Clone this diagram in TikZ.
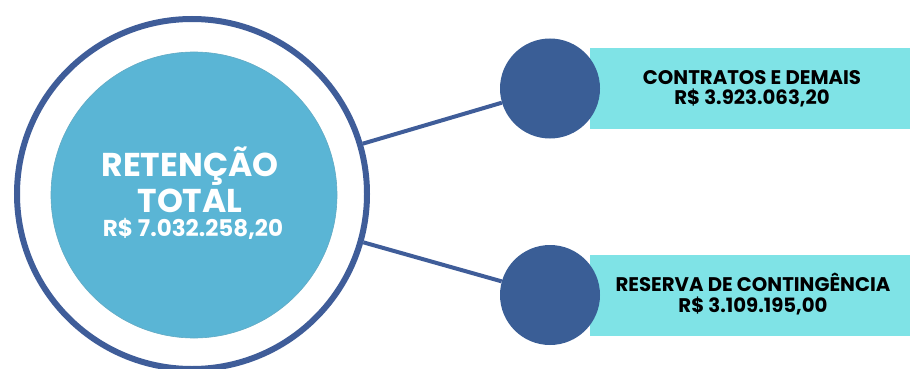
\documentclass[tikz,border=0pt]{standalone}
\usepackage{fontspec}
\setmainfont{Poppins}
\definecolor{ringcol}{HTML}{3F5D99}
\definecolor{dotcol}{HTML}{3A5E96}
\definecolor{innercol}{HTML}{5AB5D5}
\definecolor{boxcol}{HTML}{7FE3E6}
\begin{document}
\begin{tikzpicture}[x=1pt,y=-1pt,
  outerring/.style={circle, draw=ringcol, line width=6pt, fill=white, minimum size=350pt, inner sep=0pt},
  innerdisc/.style={circle, fill=innercol, draw=innercol!80!gray, line width=0.6pt, minimum size=286pt, inner sep=0pt},
  bigtext/.style={text=white, font=\bfseries\fontsize{33}{36}\selectfont, align=center, inner sep=0pt},
  midtext/.style={text=white, font=\bfseries\fontsize{23}{26}\selectfont, inner sep=0pt},
  dot/.style={circle, fill=dotcol, minimum size=100pt, inner sep=0pt},
  bandbox/.style={rectangle, fill=boxcol, minimum width=320pt, minimum height=81pt, inner sep=0pt},
  bandtext/.style={font=\bfseries\fontsize{19.7}{20.5}\selectfont, align=center, text=black, inner sep=0pt},
  link/.style={draw=ringcol, line width=4pt}
]
\useasboundingbox (0,0) rectangle (910,369);
\node[outerring] (outer) at (192,194) {};
\node[innerdisc] (inner) at (194,195) {};
\node[bigtext] (title) at (190,180) {RETENÇÃO\\TOTAL};
\node[midtext] (total) at (193,229) {R\$ 7.032.258,20};
\node[bandbox] (box1) at (750,88.5) {};
\node[bandtext] (t1) at (752,89) {CONTRATOS E DEMAIS\\R\$ 3.923.063,20};
\node[bandbox] (box2) at (750,295) {};
\node[bandtext] (t2) at (753,294) {RESERVA DE CONTINGÊNCIA\\R\$ 3.109.195,00};
\node[dot] (dot1) at (550,88.5) {};
\node[dot] (dot2) at (550,295) {};
\path[link] (outer) -- (dot1);
\path[link] (outer) -- (dot2);
\end{tikzpicture}
\end{document}
